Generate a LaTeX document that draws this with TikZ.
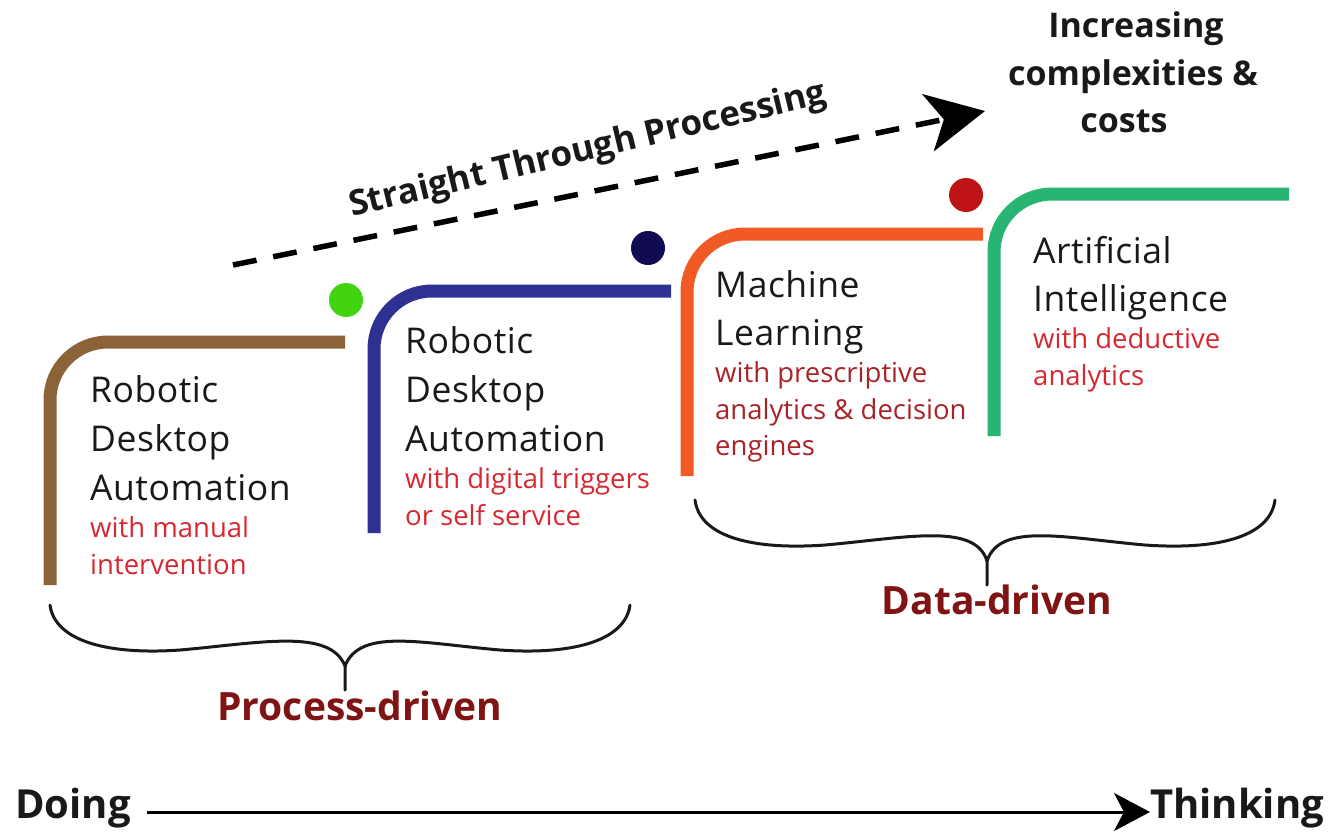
\documentclass[tikz,border=0pt]{standalone}
\usepackage{fontspec}
\setmainfont{Open Sans}
\usetikzlibrary{arrows.meta}
\definecolor{cbrown}{RGB}{140,98,57}
\definecolor{cgreendot}{RGB}{66,212,16}
\definecolor{cblue}{RGB}{46,49,146}
\definecolor{cnavy}{RGB}{16,10,80}
\definecolor{corange}{RGB}{241,90,36}
\definecolor{creddot}{RGB}{190,20,22}
\definecolor{cgreen}{RGB}{40,180,115}
\definecolor{cred}{RGB}{215,40,50}
\definecolor{cdred}{RGB}{170,35,40}
\definecolor{clabel}{RGB}{128,20,20}
\definecolor{ctext}{RGB}{25,25,25}
\tikzset{
  stepline/.style={line width=13pt, rounded corners=58pt, line cap=butt},
  dot/.style={circle, inner sep=0pt, minimum size=34pt},
  blk/.style={anchor=base west, inner sep=0pt, text=ctext, font=\fontsize{35.5}{40}\selectfont\addfontfeatures{LetterSpace=1.5}},
  sub/.style={anchor=base west, inner sep=0pt, text=cred, font=\fontsize{27.5}{30}\selectfont},
  toplbl/.style={anchor=base, inner sep=0pt, text=ctext, font=\fontsize{34}{40}\selectfont\bfseries},
  grouplbl/.style={anchor=base, inner sep=0pt, text=clabel, font=\fontsize{39}{44}\selectfont\bfseries},
  axislbl/.style={anchor=base west, inner sep=0pt, text=ctext, font=\fontsize{40}{44}\selectfont\bfseries},
  bracepath/.style={line width=3pt, black!90, line cap=round},
}
\begin{document}
\begin{tikzpicture}[x=1pt,y=-1pt]
\path[use as bounding box] (0,0) rectangle (1331,831);

% steps
\draw[stepline, cbrown]  (50,585) -- (50,342) -- (345,342);
\draw[stepline, cblue]   (374,533) -- (374,291) -- (671,291);
\draw[stepline, corange] (687,476) -- (687,234) -- (983,234);
\draw[stepline, cgreen]  (994,436) -- (994,194) -- (1289,194);

% dots
\node[dot, fill=cgreendot] (d1) at (346,300) {};
\node[dot, fill=cnavy]     (d2) at (648,248) {};
\node[dot, fill=creddot]   (d3) at (966,195) {};

% block 1
\node[blk] (a1) at (90,402) {Robotic};
\node[blk] (a2) at (90,451) {Desktop};
\node[blk] (a3) at (90,500) {Automation};
\node[sub] (a4) at (90,537) {with manual};
\node[sub] (a5) at (90,574) {intervention};
% block 2
\node[blk] (b1) at (405,353) {Robotic};
\node[blk] (b2) at (405,402) {Desktop};
\node[blk] (b3) at (405,451) {Automation};
\node[sub] (b4) at (405,488) {with digital triggers};
\node[sub] (b5) at (405,525) {or self service};
% block 3
\node[blk] (c1) at (715,297) {Machine};
\node[blk] (c2) at (715,345) {Learning};
\node[sub, text=cdred] (c3) at (715,382) {with prescriptive};
\node[sub, text=cdred] (c4) at (715,419) {analytics \& decision};
\node[sub, text=cdred] (c5) at (715,455) {engines};
% block 4
\node[blk] (e1) at (1033,263) {Artificial};
\node[blk] (e2) at (1033,311) {Intelligence};
\node[sub] (e3) at (1033,348) {with deductive};
\node[sub] (e4) at (1033,385) {analytics};

% top right
\node[toplbl] (t1) at (1136,37) {Increasing};
\node[toplbl] (t2) at (1133,85) {complexities \&};
\node[toplbl] (t3) at (1124,132) {costs};

% straight through processing
\coordinate (s0) at (233,265);
\coordinate (s1) at (985,111);
\draw[line width=5.5pt, dash pattern=on 24pt off 17pt, -{Stealth[length=58pt,width=58pt,inset=16pt]}] (s0) -- (s1);
\node[inner sep=0pt, rotate=13.5, text=ctext, font=\fontsize{35}{40}\selectfont\bfseries] (stp) at (588,151) {Straight Through Processing};

% braces
\draw[bracepath] (50,605) .. controls (55,642) and (110,655) .. (180,650)
  .. controls (260,643) and (330,628) .. (345,666) -- (345,690);
\draw[bracepath] (630,605) .. controls (625,642) and (570,655) .. (500,650)
  .. controls (420,643) and (360,628) .. (345,666);
\node[grouplbl] (pd) at (360,720) {Process-driven};

\draw[bracepath] (695,500) .. controls (700,538) and (755,550) .. (825,545)
  .. controls (905,538) and (975,522) .. (987,561) -- (987,585);
\draw[bracepath] (1275,500) .. controls (1270,538) and (1215,550) .. (1145,545)
  .. controls (1065,538) and (1000,522) .. (987,561);
\node[grouplbl] (dd) at (997,614) {Data-driven};

% bottom axis
\node[axislbl] (doing) at (15,818) {Doing};
\node[axislbl] (think) at (1150,818) {Thinking};
\draw[line width=3pt, -{Stealth[length=36pt,width=38pt,inset=10pt]}] (147,812) -- (think.west |- 0,812);
\end{tikzpicture}
\end{document}
